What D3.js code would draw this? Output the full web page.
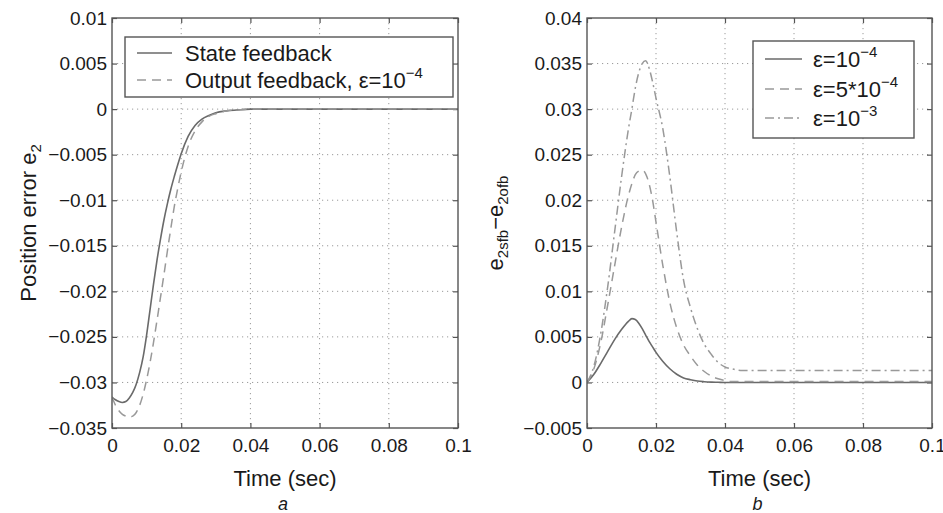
<!DOCTYPE html>
<html><head><meta charset="utf-8">
<script src="https://cdn.jsdelivr.net/npm/d3@7"></script>
<style>
body{margin:0;background:#fff;}
svg{display:block;font-family:"Liberation Sans",Arial,Helvetica,sans-serif;}
</style></head>
<body>
<svg id="chart" width="943" height="513"></svg>
<script>
// ---------- data ----------
const timeA = [0,0.001,0.002,0.003,0.004,0.005,0.006,0.007,0.008,0.009,0.010,0.011,0.012,0.013,0.014,0.015,0.016,0.017,0.018,0.019,0.020,0.022,0.024,0.026,0.028,0.030,0.033,0.036,0.040,0.05,0.06,0.07,0.08,0.09,0.1];
const stateFeedback = [-0.0316,-0.0319,-0.0321,-0.0322,-0.0321,-0.0317,-0.0311,-0.0302,-0.0289,-0.0272,-0.0248,-0.0220,-0.0192,-0.0166,-0.0143,-0.0122,-0.0104,-0.0088,-0.0074,-0.0061,-0.0049,-0.0030,-0.0018,-0.0011,-0.0007,-0.0004,-0.0002,-0.0001,0,0,0,0,0,0,0];
const outputFeedback = [-0.0316,-0.0325,-0.0331,-0.0335,-0.0337,-0.0338,-0.0337,-0.0333,-0.0325,-0.0313,-0.0297,-0.0278,-0.0256,-0.0232,-0.0207,-0.0182,-0.0156,-0.0131,-0.0107,-0.0087,-0.0069,-0.0041,-0.0024,-0.0014,-0.0008,-0.0005,-0.0002,-0.0001,0,0,0,0,0,0,0];

const timeB = [0,0.002,0.004,0.006,0.008,0.010,0.012,0.013,0.014,0.015,0.016,0.017,0.018,0.019,0.020,0.022,0.024,0.026,0.028,0.030,0.032,0.034,0.036,0.038,0.040,0.042,0.045,0.05,0.06,0.07,0.08,0.09,0.1];
const diffEps1e4 = [0,0.0009,0.0021,0.0034,0.0047,0.0058,0.0067,0.0070,0.0069,0.0065,0.0059,0.0052,0.0045,0.0039,0.0033,0.0023,0.0015,0.0009,0.0005,0.0003,0.00015,0.00008,0.00004,0.00002,0,0,0,0,0,0,0,0,0];
const diffEps5e4 = [0,0.0015,0.0044,0.0085,0.0128,0.0170,0.0205,0.0218,0.0228,0.0232,0.0233,0.0229,0.0218,0.0200,0.0176,0.0128,0.0088,0.0060,0.0041,0.0029,0.0019,0.0012,0.0007,0.0004,0.0002,0.0001,0.0001,0.0001,0.0001,0.0001,0.0001,0.0001,0.0001];
const diffEps1e3 = [0,0.0018,0.0054,0.0105,0.0165,0.0225,0.0278,0.0300,0.0323,0.0340,0.0350,0.0353,0.0345,0.0330,0.0312,0.0278,0.0226,0.0165,0.0112,0.0082,0.0059,0.0042,0.0031,0.0022,0.0017,0.0015,0.0013,0.0013,0.0013,0.0013,0.0013,0.0013,0.0013];

const xTicks = [0,0.02,0.04,0.06,0.08,0.1];
const xTickLabels = ["0","0.02","0.04","0.06","0.08","0.1"];
const yTicksA = [0.01,0.005,0,-0.005,-0.01,-0.015,-0.02,-0.025,-0.03,-0.035];
const yTickLabelsA = ["0.01","0.005","0","\u22120.005","\u22120.01","\u22120.015","\u22120.02","\u22120.025","\u22120.03","\u22120.035"];
const yTicksB = [0.04,0.035,0.03,0.025,0.02,0.015,0.01,0.005,0,-0.005];
const yTickLabelsB = ["0.04","0.035","0.03","0.025","0.02","0.015","0.01","0.005","0","\u22120.005"];

// ---------- styles ----------
const C_AXIS = "#555", C_GRID = "#9a9a9a";
const styles = {
  solid:   {stroke:"#6a6a6a", dash:null, width:1.6},
  dashed:  {stroke:"#999", dash:"9,6", width:1.5},
  dashdot: {stroke:"#999", dash:"9,4,2,4", width:1.5}
};

const svg = d3.select("#chart");

function panel(cfg){
  const g = svg.append("g");
  const x = d3.scaleLinear().domain([0,0.1]).range([cfg.x0,cfg.x1]);
  const y = d3.scaleLinear().domain(cfg.yDomain).range([cfg.y1,cfg.y0]);

  // grid
  g.append("g").selectAll("line").data(xTicks.slice(1,-1)).join("line")
    .attr("x1",d=>x(d)).attr("x2",d=>x(d)).attr("y1",cfg.y0).attr("y2",cfg.y1)
    .attr("stroke",C_GRID).attr("stroke-width",1).attr("stroke-dasharray","1.2,3.8");
  g.append("g").selectAll("line").data(cfg.yTicks.slice(1,-1)).join("line")
    .attr("x1",cfg.x0).attr("x2",cfg.x1).attr("y1",d=>y(d)).attr("y2",d=>y(d))
    .attr("stroke",C_GRID).attr("stroke-width",1).attr("stroke-dasharray","1.2,3.8");

  // axes (ticks inward on all four sides)
  const fmtX = d=>xTickLabels[xTicks.indexOf(d)];
  const fmtY = d=>cfg.yLabels[cfg.yTicks.indexOf(d)];
  const axB = g.append("g").attr("transform",`translate(0,${cfg.y1})`)
    .call(d3.axisBottom(x).tickValues(xTicks).tickFormat(fmtX).tickSizeInner(-5).tickSizeOuter(0).tickPadding(10));
  const axT = g.append("g").attr("transform",`translate(0,${cfg.y0})`)
    .call(d3.axisTop(x).tickValues(xTicks).tickFormat("").tickSizeInner(-5).tickSizeOuter(0));
  const axL = g.append("g").attr("transform",`translate(${cfg.x0},0)`)
    .call(d3.axisLeft(y).tickValues(cfg.yTicks).tickFormat(fmtY).tickSizeInner(-5).tickSizeOuter(0).tickPadding(5));
  const axR = g.append("g").attr("transform",`translate(${cfg.x1},0)`)
    .call(d3.axisRight(y).tickValues(cfg.yTicks).tickFormat("").tickSizeInner(-5).tickSizeOuter(0));
  [axB,axT,axL,axR].forEach(a=>{
    a.select(".domain").remove();
    a.selectAll(".tick line").attr("stroke",C_AXIS).attr("stroke-width",1.2);
    a.selectAll(".tick text").attr("fill","#1a1a1a").attr("font-size",19).attr("font-family","Liberation Sans, Arial, sans-serif");
  });
  axB.selectAll(".tick text").attr("dy","0.74em");

  // lines
  const clipId = "clip"+cfg.id;
  svg.append("clipPath").attr("id",clipId).append("rect")
    .attr("x",cfg.x0).attr("y",cfg.y0).attr("width",cfg.x1-cfg.x0).attr("height",cfg.y1-cfg.y0);
  const line = d3.line().x(d=>x(d[0])).y(d=>y(d[1])).curve(d3.curveMonotoneX);
  cfg.series.forEach(s=>{
    const st = styles[s.style];
    g.append("path").attr("clip-path",`url(#${clipId})`)
      .datum(cfg.time.map((t,i)=>[t,s.values[i]]))
      .attr("d",line).attr("fill","none").attr("stroke",st.stroke)
      .attr("stroke-width",st.width).attr("stroke-dasharray",st.dash)
      .attr("stroke-linejoin","round");
  });

  // frame
  g.append("rect").attr("x",cfg.x0).attr("y",cfg.y0).attr("width",cfg.x1-cfg.x0).attr("height",cfg.y1-cfg.y0)
    .attr("fill","none").attr("stroke",C_AXIS).attr("stroke-width",1.4);

  // legend
  const L = cfg.legend;
  g.append("rect").attr("x",L.x0).attr("y",L.y0).attr("width",L.x1-L.x0).attr("height",L.y1-L.y0)
    .attr("fill","#fff").attr("stroke",C_AXIS).attr("stroke-width",1.4);
  cfg.series.forEach((s,i)=>{
    const st = styles[s.style];
    const yy = L.rows[i];
    g.append("line").attr("x1",L.lx0).attr("x2",L.lx1).attr("y1",yy).attr("y2",yy)
      .attr("stroke",st.stroke).attr("stroke-width",st.width).attr("stroke-dasharray",st.dash);
    const t = g.append("text").attr("x",L.tx).attr("y",yy+8).attr("font-size",22).attr("fill","#1a1a1a");
    t.append("tspan").text(s.label);
    if(s.sup){ t.append("tspan").attr("dy",-10).attr("font-size",15).text(s.sup); }
  });

  // x label and panel tag
  g.append("text").attr("x",(cfg.x0+cfg.x1)/2).attr("y",486).attr("text-anchor","middle")
    .attr("font-size",22).attr("fill","#1a1a1a").text("Time (sec)");
  g.append("text").attr("x",(cfg.x0+cfg.x1)/2 - 2).attr("y",510).attr("text-anchor","middle")
    .attr("font-size",18).attr("font-style","italic").attr("fill","#1a1a1a").text(cfg.tag);
  return {g,x,y};
}

// Panel a
const pa = panel({
  id:"a", x0:112, x1:458, y0:18, y1:428, yDomain:[-0.035,0.01],
  yTicks:yTicksA, yLabels:yTickLabelsA, time:timeA, tag:"a",
  series:[
    {values:stateFeedback, style:"solid", label:"State feedback"},
    {values:outputFeedback, style:"dashed", label:"Output feedback, \u03b5=10", sup:"\u22124"}
  ],
  legend:{x0:125,x1:453,y0:37,y1:97,rows:[53,80],lx0:137,lx1:172,tx:185}
});
{
  const t = pa.g.append("text").attr("transform","translate(36,223) rotate(-90)")
    .attr("text-anchor","middle").attr("font-size",22).attr("fill","#1a1a1a");
  t.append("tspan").text("Position error e");
  t.append("tspan").attr("dy",5).attr("font-size",15).text("2");
}

// Panel b
const pb = panel({
  id:"b", x0:587, x1:932, y0:18, y1:428, yDomain:[-0.005,0.04],
  yTicks:yTicksB, yLabels:yTickLabelsB, time:timeB, tag:"b",
  series:[
    {values:diffEps1e4, style:"solid", label:"\u03b5=10", sup:"\u22124"},
    {values:diffEps5e4, style:"dashed", label:"\u03b5=5*10", sup:"\u22124"},
    {values:diffEps1e3, style:"dashdot", label:"\u03b5=10", sup:"\u22123"}
  ],
  legend:{x0:753,x1:914,y0:41,y1:138,rows:[59,89,118],lx0:765,lx1:802,tx:813}
});
{
  const t = pb.g.append("text").attr("transform","translate(503,223) rotate(-90)")
    .attr("text-anchor","middle").attr("font-size",22).attr("fill","#1a1a1a");
  t.append("tspan").text("e");
  t.append("tspan").attr("dy",5).attr("font-size",15).text("2sfb");
  t.append("tspan").attr("dy",-5).text("\u2212e");
  t.append("tspan").attr("dy",5).attr("font-size",15).text("2ofb");
}
</script>
</body></html>
